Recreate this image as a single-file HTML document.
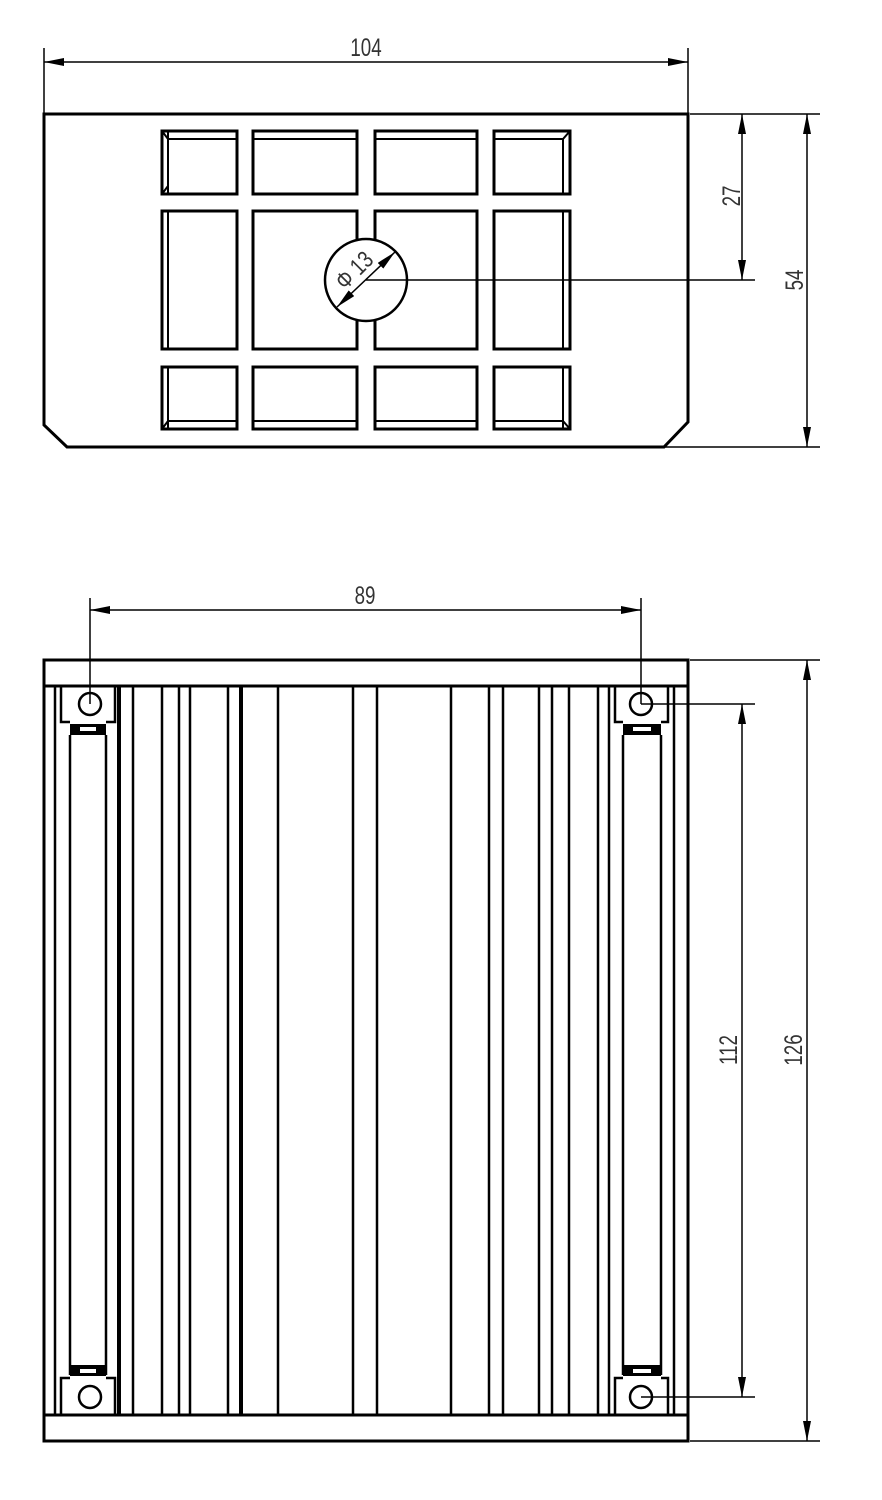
<!DOCTYPE html>
<html><head><meta charset="utf-8"><style>html,body{margin:0;padding:0;background:#fff}svg{display:block}</style></head>
<body>
<svg width="882" height="1500" viewBox="0 0 882 1500" xmlns="http://www.w3.org/2000/svg">
<defs>
<marker id="a" viewBox="0 0 20 8" refX="20" refY="4" markerWidth="20" markerHeight="8" markerUnits="userSpaceOnUse" orient="auto-start-reverse"><path d="M0,0 L20,4 L0,8 Z" fill="#000"/></marker>
</defs>
<g fill="none" stroke="#000" stroke-width="3">
<path d="M44,114 L688,114 L688,422 L664,447 L67,447 L44,425 Z"/>
<rect x="162" y="131" width="75" height="63"/><rect x="253" y="131" width="104" height="63"/><rect x="375" y="131" width="102" height="63"/><rect x="494" y="131" width="76" height="63"/>
<rect x="162" y="211" width="75" height="138"/><rect x="253" y="211" width="104" height="138"/><rect x="375" y="211" width="102" height="138"/><rect x="494" y="211" width="76" height="138"/>
<rect x="162" y="367" width="75" height="62"/><rect x="253" y="367" width="104" height="62"/><rect x="375" y="367" width="102" height="62"/><rect x="494" y="367" width="76" height="62"/>
</g>
<g fill="none" stroke="#000" stroke-width="2">
<path d="M168,131 V194 M162,131 L168,139 M162,194 L168,186 M168,139 H237 M253,139 H357 M375,139 H477 M494,139 H563 L570,131 M563,139 V194"/>
<path d="M168,211 V349 M563,211 V349"/>
<path d="M168,367 V429 M162,429 L168,421 H237 M253,421 H357 M375,421 H477 M494,421 H563 L570,429 M563,367 V429"/>
</g>
<circle cx="366" cy="280" r="41" fill="#fff" stroke="#000" stroke-width="2.5"/>
<g stroke="#000" stroke-width="1.5" fill="none">
<line x1="337" y1="307" x2="395" y2="252" marker-start="url(#a)" marker-end="url(#a)"/>
<line x1="366" y1="280" x2="755" y2="280"/>
<line x1="44" y1="48" x2="44" y2="114"/><line x1="688" y1="48" x2="688" y2="114"/>
<line x1="44" y1="62" x2="688" y2="62" marker-start="url(#a)" marker-end="url(#a)"/>
<line x1="690" y1="114" x2="820" y2="114"/><line x1="665" y1="447" x2="820" y2="447"/>
<line x1="742" y1="114" x2="742" y2="280" marker-start="url(#a)" marker-end="url(#a)"/>
<line x1="807" y1="114" x2="807" y2="447" marker-start="url(#a)" marker-end="url(#a)"/>
<line x1="90" y1="598" x2="90" y2="704"/><line x1="641" y1="598" x2="641" y2="704"/>
<line x1="90" y1="610" x2="641" y2="610" marker-start="url(#a)" marker-end="url(#a)"/>
<line x1="690" y1="660" x2="820" y2="660"/><line x1="690" y1="1441" x2="820" y2="1441"/>
<line x1="641" y1="704" x2="755" y2="704"/><line x1="641" y1="1397" x2="755" y2="1397"/>
<line x1="742" y1="704" x2="742" y2="1397" marker-start="url(#a)" marker-end="url(#a)"/>
<line x1="807" y1="660" x2="807" y2="1441" marker-start="url(#a)" marker-end="url(#a)"/>
</g>
<g font-family="Liberation Sans, sans-serif" font-size="25" fill="#333" text-anchor="middle">
<text x="366" y="56" transform="translate(366,0) scale(0.75,1) translate(-366,0)">104</text>
<text x="365" y="604" transform="translate(365,0) scale(0.75,1) translate(-365,0)">89</text>
<text transform="translate(740,196) rotate(-90) scale(0.75,1)">27</text>
<text transform="translate(803,280) rotate(-90) scale(0.75,1)">54</text>
<text transform="translate(737,1050) rotate(-90) scale(0.75,1)">112</text>
<text transform="translate(802,1050) rotate(-90) scale(0.75,1)">126</text>
<text transform="translate(360,276) rotate(-45) scale(0.8,1)" font-size="24">Φ 13</text>
</g>
<g fill="none" stroke="#000" stroke-width="3">
<rect x="44" y="660" width="644" height="781"/>
<line x1="44" y1="686" x2="688" y2="686"/><line x1="44" y1="1415" x2="688" y2="1415"/>
</g>
<g stroke="#000" stroke-width="2.5">
<path d="M55,686V1415 M70,735V1375 M106,735V1375 M133,686V1415 M162,686V1415 M179,686V1415 M190,686V1415 M228,686V1415 M278,686V1415 M353,686V1415 M377,686V1415 M451,686V1415 M489,686V1415 M503,686V1415 M539,686V1415 M552,686V1415 M569,686V1415 M598,686V1415 M609,686V1415 M623,735V1375 M661,735V1375 M674,686V1415"/>
<path d="M119,686V1415 M241,686V1415" stroke-width="4"/>
<path d="M61,686V722H70 M115,686V722H106 M615,686V722H623 M668,686V722H661" fill="none"/>
<path d="M61,1415V1378H70 M115,1415V1378H106 M615,1415V1378H623 M668,1415V1378H661" fill="none"/>
</g>
<g fill="#000">
<rect x="70" y="724" width="36" height="11"/><rect x="623" y="724" width="38" height="11"/>
<rect x="70" y="1365" width="36" height="11"/><rect x="623" y="1365" width="38" height="11"/>
</g>
<g fill="#fff">
<rect x="80" y="727" width="16" height="4"/><rect x="633" y="727" width="18" height="4"/>
<rect x="80" y="1369" width="16" height="4"/><rect x="633" y="1369" width="18" height="4"/>
</g>
<g fill="none" stroke="#000" stroke-width="2.5">
<circle cx="90" cy="704" r="11"/><circle cx="641" cy="704" r="11"/>
<circle cx="90" cy="1397" r="11"/><circle cx="641" cy="1397" r="11"/>
</g>
</svg>
</body></html>
